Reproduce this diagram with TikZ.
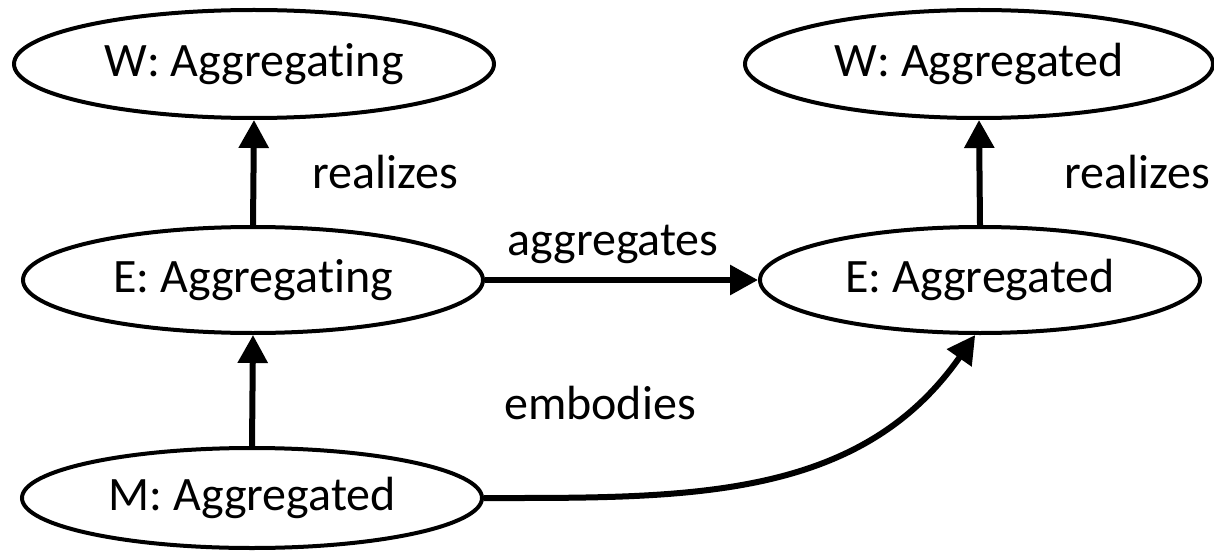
\documentclass[tikz,border=0pt]{standalone}
\usepackage{fontspec}
\setmainfont[Ligatures=NoCommon]{Carlito}
\usetikzlibrary{shapes.geometric,arrows.meta}

\tikzset{
  state/.style={draw,ellipse,line width=2pt,inner sep=0pt,
    font=\fontsize{24}{28}\selectfont},
  arr/.style={line width=3pt,-{Triangle[length=14pt,width=14.5pt]}},
  lbl/.style={font=\fontsize{24}{28}\selectfont}
}

\begin{document}
\begin{tikzpicture}[x=0.5pt,y=-0.5pt]
        \useasboundingbox (0,0) rectangle (1214,551) ;
        % top row
        \node[state,minimum width=240pt,minimum height=54pt] (wl) at (254,64) {W: Aggregating} ;
        \node[state,minimum width=234pt,minimum height=54pt] (wr) at (979,64) {W: Aggregated} ;
        % middle row
        \node[state,minimum width=230pt,minimum height=53pt] (el) at (253,280) {E: Aggregating} ;
        \node[state,minimum width=220pt,minimum height=53pt] (er) at (980,280) {E: Aggregated} ;
        % bottom row
        \node[state,minimum width=230pt,minimum height=50pt] (ml) at (252,498) {M: Aggregated} ;
        % connectors
        \draw[arr] (el.north) -- (wl.south) ;
        \draw[arr] (er.north) -- (wr.south) ;
        \draw[arr] (el.east) -- (er.west) ;
        \draw[arr] (ml.north) -- (el.south) ;
        \draw[arr] (ml.east) to[out=0,in=-125] (er.-95) ;
        % labels
        \node[lbl] (r1) at (385,172) {realizes} ;
        \node[lbl] (r2) at (1137,172) {realizes} ;
        \node[lbl] (ag) at (613,244) {aggregates} ;
        \node[lbl] (em) at (600,403) {embodies} ;
\end{tikzpicture}
\end{document}
